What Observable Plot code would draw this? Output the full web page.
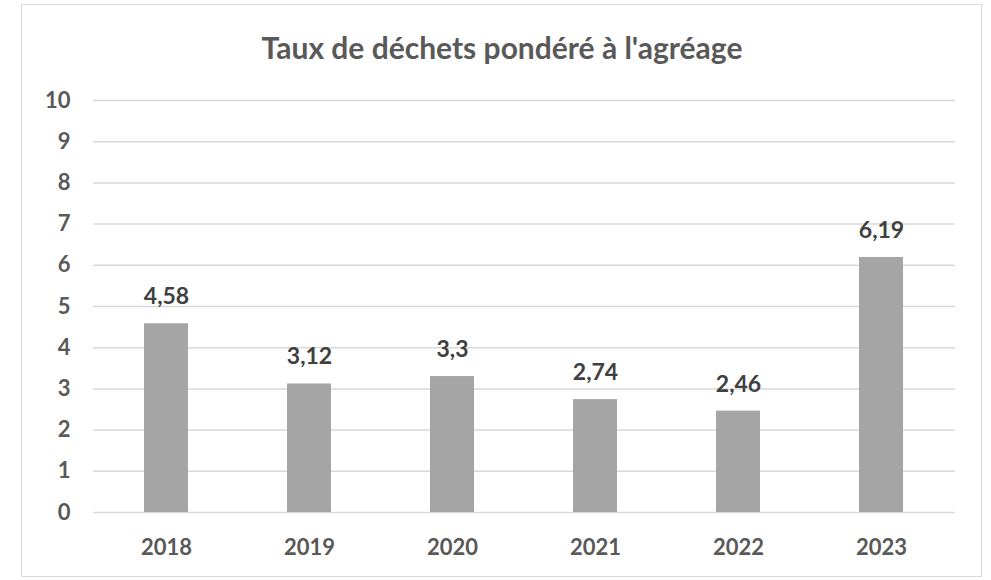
<!DOCTYPE html>
<html>
<head>
<meta charset="utf-8">
<script src="https://cdn.jsdelivr.net/npm/d3@7"></script>
<script src="https://cdn.jsdelivr.net/npm/@observablehq/plot@0.6"></script>
<style>
  html, body { margin: 0; padding: 0; background: #fff; }
  #wrap { position: relative; width: 991px; height: 580px; overflow: hidden; font-family: Lato, "Open Sans", sans-serif; }
  #frame { position: absolute; left: 21px; top: 4px; width: 961px; height: 573px; border: 1px solid #d9d9d9; box-sizing: border-box; }
  #title { position: absolute; left: 0; width: 1004px; top: 27px; text-align: center; font-size: 30px; line-height: 40px; font-weight: bold; color: #595959; }
  #chart { position: absolute; left: 0; top: 0; }
</style>
</head>
<body>
<div id="wrap">
  <div id="frame"></div>
  <div id="chart"></div>
  <div id="title">Taux de déchets pondéré à l'agréage</div>
</div>
<script>
const years = ["2018", "2019", "2020", "2021", "2022", "2023"];
const values = [4.58, 3.12, 3.3, 2.74, 2.46, 6.19];
const yTicks = [0, 1, 2, 3, 4, 5, 6, 7, 8, 9, 10];

const data = years.map((y, i) => ({year: y, value: values[i], label: String(values[i]).replace(".", ",")}));

const chart = Plot.plot({
  width: 991,
  height: 580,
  marginLeft: 93,
  marginRight: 36,
  marginTop: 100,
  marginBottom: 68,
  style: {fontFamily: "Lato, 'Open Sans', sans-serif", background: "transparent", color: "#595959"},
  x: {domain: years, paddingInner: 0.69, paddingOuter: 0.345, label: null},
  y: {domain: [0, 10], label: null},
  marks: [
    Plot.gridY(yTicks, {stroke: "#d9d9d9", strokeOpacity: 1, strokeWidth: 1.5}),
    Plot.barY(data, {x: "year", y: "value", fill: "#a5a5a5"}),
    Plot.axisY({ticks: yTicks, tickSize: 0, tickPadding: 23, fontSize: 22, fontWeight: "bold", fill: "#595959", label: null}),
    Plot.axisX({tickSize: 0, tickPadding: 27, fontSize: 22, fontWeight: "bold", fill: "#595959", label: null}),
    Plot.text(data, {x: "year", y: "value", text: "label", dy: -27, fontSize: 23, fontWeight: "bold", fill: "#404040"})
  ]
});
document.getElementById("chart").appendChild(chart);
</script>
</body>
</html>
